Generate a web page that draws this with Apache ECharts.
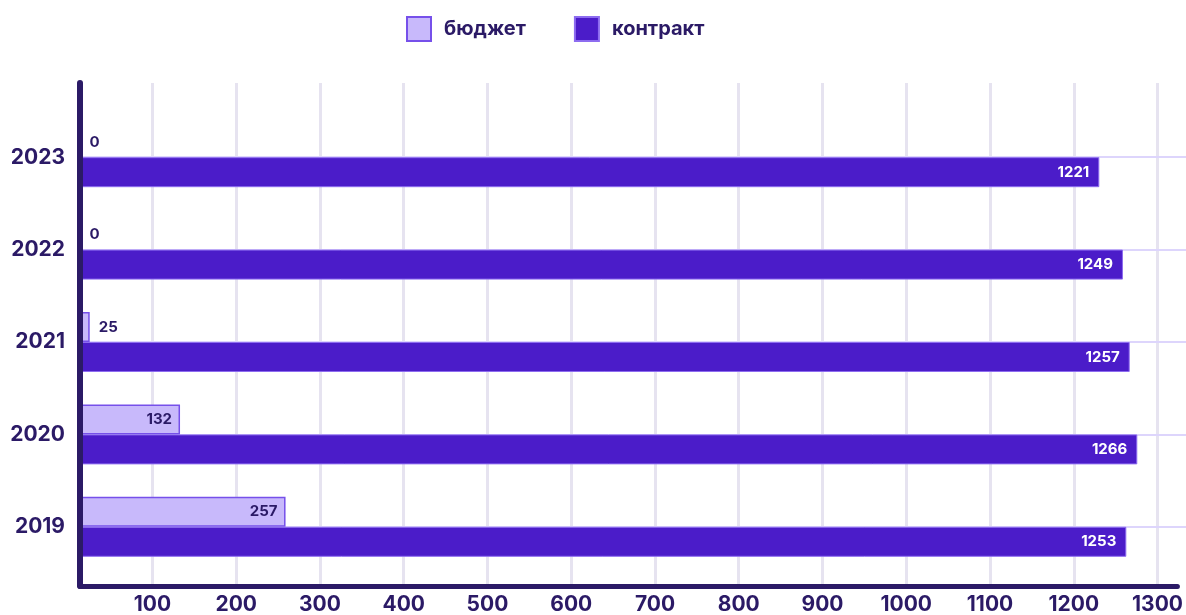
<!DOCTYPE html>
<html><head><meta charset="utf-8">
<script src="https://cdn.jsdelivr.net/npm/echarts@6/dist/echarts.min.js"></script>
<style>html,body{margin:0;padding:0;background:#fff}#c{width:1186px;height:615px}</style>
</head><body><div id="c"></div>
<script>
const years = ['2019', '2020', '2021', '2022', '2023'];
const budget = [257, 132, 25, 0, 0];
const contract = [1253, 1266, 1257, 1249, 1221];
const xTicks = [100, 200, 300, 400, 500, 600, 700, 800, 900, 1000, 1100, 1200, 1300];
const seriesNames = ['бюджет', 'контракт'];

const X_MIN = 13.5, X_MAX = 1323.7;
const DARK = '#2b1a66';
const FONT = 'Inter, "Noto Sans", sans-serif';

const chart = echarts.init(document.getElementById('c'));
chart.setOption({
  animation: false,
  textStyle: { fontFamily: FONT },
  legend: {
    data: seriesNames,
    left: 406, top: 16, padding: 0,
    itemWidth: 24, itemHeight: 24, itemGap: 48,
    icon: 'rect',
    textStyle: { fontSize: 20, fontWeight: 700, color: DARK, fontFamily: FONT, padding: [0, 0, 0, 8] }
  },
  grid: [
    { left: 80, right: 0, top: 83, bottom: 26, containLabel: false },
    { left: 80, right: 0, top: 111, bottom: 42, containLabel: false }
  ],
  xAxis: [
    {
      gridIndex: 0, type: 'value', min: X_MIN, max: X_MAX,
      axisLine: { show: true, lineStyle: { color: DARK, width: 5 } },
      axisTick: { show: false, customValues: xTicks },
      axisLabel: { customValues: xTicks, formatter: v => String(v), fontSize: 21, fontWeight: 700, color: DARK, margin: 8, fontFamily: FONT },
      splitLine: { show: true, lineStyle: { color: '#e6e3f0', width: 3 } }
    },
    {
      gridIndex: 1, type: 'value', min: X_MIN, max: X_MAX,
      axisLine: { show: false }, axisTick: { show: false }, axisLabel: { show: false }, splitLine: { show: false }
    }
  ],
  yAxis: [
    {
      gridIndex: 0, type: 'value', min: 0, max: 1, z: 10,
      axisLine: { show: true, lineStyle: { color: DARK, width: 6 } },
      axisTick: { show: false }, axisLabel: { show: false }, splitLine: { show: false }
    },
    {
      gridIndex: 1, type: 'category', data: years,
      axisLine: { show: false }, axisTick: { show: false }, splitLine: { show: false },
      axisLabel: { fontSize: 21, fontWeight: 700, color: DARK, margin: 15, fontFamily: FONT }
    }
  ],
  series: [
    {
      name: 'separators', type: 'line', xAxisIndex: 1, yAxisIndex: 1, data: [],
      silent: true, z: 1,
      markLine: {
        silent: true, symbol: 'none', z: 1, label: { show: false },
        lineStyle: { color: '#ddd5fc', width: 2, type: 'solid' },
        data: years.map(y => ({ yAxis: y }))
      }
    },
    {
      name: seriesNames[0], type: 'bar', xAxisIndex: 1, yAxisIndex: 1,
      barWidth: 30, barGap: '0%', barMinHeight: 12,
      itemStyle: { color: '#c8b9fb', borderColor: '#7650ea', borderWidth: 1.5 },
      data: budget.map(v => ({
        value: v,
        itemStyle: v === 0 ? { color: 'transparent', borderWidth: 0 } : undefined,
        label: v < 60
          ? { show: true, position: 'right', distance: 9, color: DARK, fontSize: 15, fontWeight: 700, fontFamily: FONT }
          : { show: true, position: 'insideRight', distance: 8, color: DARK, fontSize: 15, fontWeight: 700, fontFamily: FONT }
      }))
    },
    {
      name: seriesNames[1], type: 'bar', xAxisIndex: 1, yAxisIndex: 1,
      barWidth: 30, barGap: '0%',
      itemStyle: { color: '#4b1cc9', borderColor: '#8d6cf0', borderWidth: 1 },
      label: { show: true, position: 'insideRight', distance: 10, color: '#ffffff', fontSize: 15, fontWeight: 700, fontFamily: FONT },
      data: contract
    }
  ]
});
</script>
</body></html>
